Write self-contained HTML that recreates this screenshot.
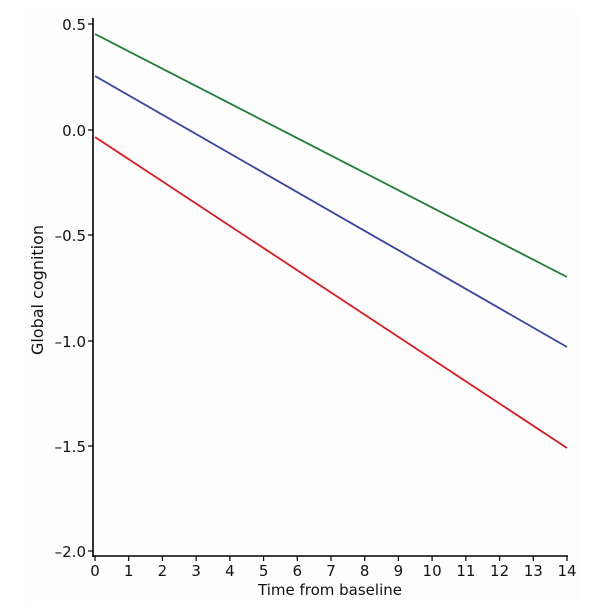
<!DOCTYPE html>
<html><head><style>body{margin:0;background:#fff}svg{display:block}text{font-family:"DejaVu Sans","Liberation Sans",sans-serif;fill:#111}</style></head>
<body>
<svg width="600" height="614" viewBox="0 0 600 614">
<rect x="25" y="12" width="555" height="590" fill="#fdfdfd"/>
<g stroke="#000" stroke-width="1.6" fill="none">
<line x1="93" y1="18" x2="93" y2="557"/>
<line x1="93" y1="556" x2="568" y2="556"/>
</g>
<g stroke="#000" stroke-width="1.2">
<line x1="88" y1="24" x2="93" y2="24"/><line x1="88" y1="130" x2="93" y2="130"/><line x1="88" y1="235" x2="93" y2="235"/><line x1="88" y1="341" x2="93" y2="341"/><line x1="88" y1="446" x2="93" y2="446"/><line x1="88" y1="551" x2="93" y2="551"/>
</g>
<g font-size="15" text-anchor="end">
<text x="86" y="30">0.5</text><text x="86" y="136">0.0</text><text x="86" y="241">–0.5</text><text x="86" y="347">–1.0</text><text x="86" y="452">–1.5</text><text x="86" y="557">–2.0</text>
</g>
<g font-size="15" text-anchor="middle">
<text x="95" y="576">0</text><text x="128.7" y="576">1</text><text x="162.4" y="576">2</text><text x="196.1" y="576">3</text><text x="229.9" y="576">4</text><text x="263.6" y="576">5</text><text x="297.3" y="576">6</text><text x="331" y="576">7</text><text x="364.7" y="576">8</text><text x="398.4" y="576">9</text><text x="432.1" y="576">10</text><text x="465.9" y="576">11</text><text x="499.6" y="576">12</text><text x="533.3" y="576">13</text><text x="567" y="576">14</text>
<text x="330" y="595" font-size="15">Time from baseline</text>
</g>
<g stroke="#000" stroke-width="1.2">
<line x1="95" y1="556" x2="95" y2="561"/><line x1="128.7" y1="556" x2="128.7" y2="561"/><line x1="162.4" y1="556" x2="162.4" y2="561"/><line x1="196.1" y1="556" x2="196.1" y2="561"/><line x1="229.9" y1="556" x2="229.9" y2="561"/><line x1="263.6" y1="556" x2="263.6" y2="561"/><line x1="297.3" y1="556" x2="297.3" y2="561"/><line x1="331" y1="556" x2="331" y2="561"/><line x1="364.7" y1="556" x2="364.7" y2="561"/><line x1="398.4" y1="556" x2="398.4" y2="561"/><line x1="432.1" y1="556" x2="432.1" y2="561"/><line x1="465.9" y1="556" x2="465.9" y2="561"/><line x1="499.6" y1="556" x2="499.6" y2="561"/><line x1="533.3" y1="556" x2="533.3" y2="561"/><line x1="567" y1="556" x2="567" y2="561"/>
</g>
<text x="43" y="290" font-size="16" text-anchor="middle" transform="rotate(-90 43 290)">Global cognition</text>
<g stroke-width="1.8" fill="none">
<line x1="95" y1="34" x2="567" y2="277" stroke="#1e7d32"/>
<line x1="95" y1="76" x2="567" y2="347" stroke="#3a44a0"/>
<line x1="95" y1="137" x2="567" y2="448" stroke="#e0191f"/>
</g>
</svg>
</body></html>
